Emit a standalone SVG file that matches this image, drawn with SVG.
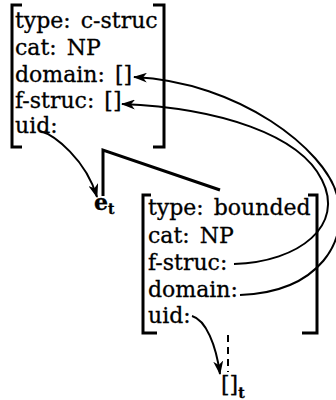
<svg xmlns="http://www.w3.org/2000/svg" width="336" height="400" viewBox="0 0 336 400">
<style>
text{font-family:"DejaVu Serif","Liberation Serif",serif;font-size:22px;fill:#000;stroke:#000;stroke-width:0.3;word-spacing:3px}
.br{fill:none;stroke:#000;stroke-width:3}
.c{fill:none;stroke:#000;stroke-width:2}
.sub{font-size:14px;font-weight:bold}
</style>
<defs>
<marker id="ah" markerUnits="userSpaceOnUse" markerWidth="14" markerHeight="10" refX="13" refY="5" orient="auto">
<path d="M0,0 L14,5 L0,10 L4,5 z" fill="#000"/>
</marker>
</defs>
<g id="cstruc">
<path class="br" d="M22,5 H12 V147 H22"/>
<path class="br" d="M153,5 H164 V147 H153"/>
<text x="15" y="28">type: c-struc</text>
<text x="15" y="55">cat: NP</text>
<text x="15" y="82">domain: []</text>
<text x="15" y="108">f-struc: []</text>
<text x="15" y="133">uid:</text>
</g>
<g id="bounded">
<path class="br" d="M151,195 H143 V333 H157"/>
<path class="br" d="M308,195 H317 V333 H302"/>
<text x="148" y="215">type: bounded</text>
<text x="148" y="243">cat: NP</text>
<text x="148" y="270">f-struc:</text>
<text x="148" y="297">domain:</text>
<text x="148" y="323">uid:</text>
</g>
<g id="et">
<text x="94" y="210" font-weight="bold">e<tspan class="sub" dy="4">t</tspan></text>
</g>
<g id="empty">
<text x="221" y="392">[]<tspan class="sub" dy="6">t</tspan></text>
</g>
<g id="connectors">
<path class="br" d="M103,196 V150 L220,190"/>
<path class="c" d="M228,335 V372" stroke-width="3" stroke-dasharray="7,5"/>
<path class="c" marker-end="url(#ah)" d="M40,131 C55,135 86,160 97,197"/>
<path class="c" marker-end="url(#ah)" d="M192,316 C206,320 216,345 220,374"/>
<path class="c" marker-end="url(#ah)" d="M234,264 C300,262 345,225 322,180 C300,135 220,108 122,104"/>
<path class="c" marker-end="url(#ah)" d="M240,295 C320,292 350,240 337,195 C325,150 240,82 134,77"/>
</g>
</svg>
